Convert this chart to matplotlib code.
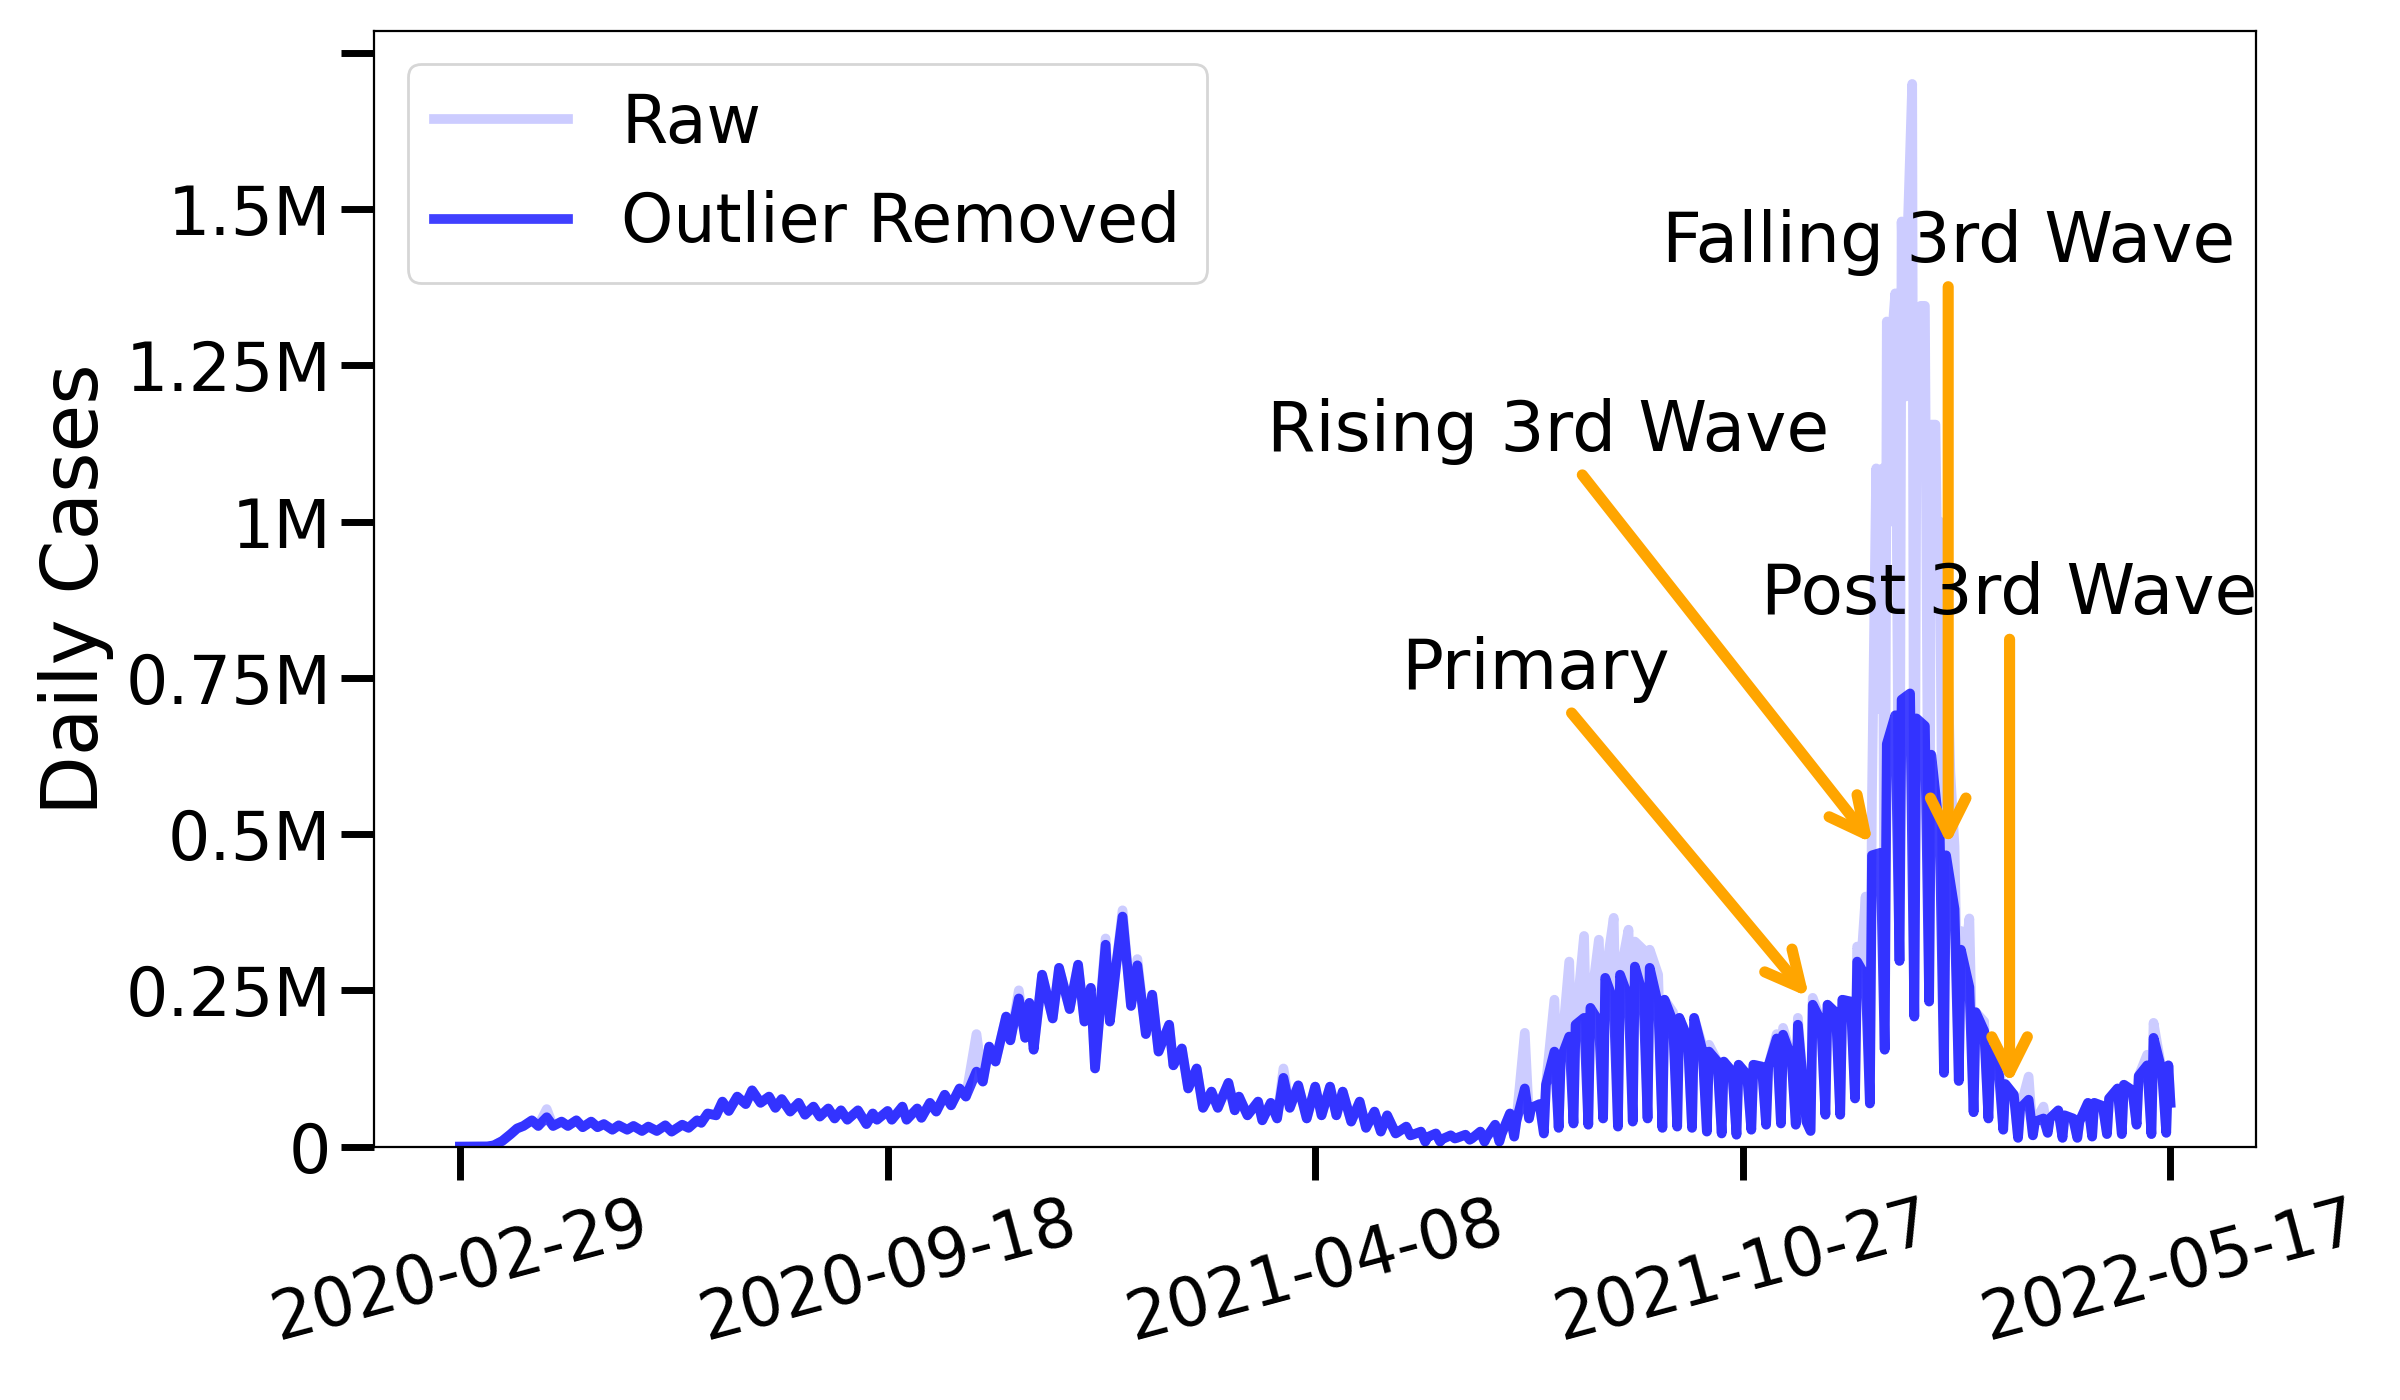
import numpy as np
import matplotlib
matplotlib.use("Agg")
import matplotlib.pyplot as plt

start = np.datetime64('2020-02-29')

# turning points: (days since 2020-02-29, thousands of cases)
pts_2020 = [(0, 0), (13, 0.3), (16, 2), (20, 9), (24, 20), (27, 29), (30, 33), (34, 42), (37, 33),
            (41, 47), (44, 33), (48, 40), (51, 33), (55, 42), (58, 31), (62, 40), (65, 31), (68, 36),
            (72, 27), (75, 34), (79, 27), (82, 33), (86, 25), (89, 32), (93, 25), (97, 34), (100, 24),
            (105, 35), (108, 30), (112, 42), (114, 38), (117, 53), (121, 50), (124, 72), (127, 57),
            (131, 80), (135, 68), (138, 90), (142, 70), (146, 80), (149, 62), (152, 76), (156, 56),
            (160, 70), (163, 51), (167, 64), (170, 48), (174, 61), (177, 45), (180, 58), (183, 43),
            (188, 58), (192, 36), (195, 53), (197, 43), (202, 57), (204, 43), (209, 64), (211, 43),
            (216, 61), (218, 46), (222, 70), (225, 56), (229, 83), (232, 66), (236, 93), (239, 80),
            (244, 120), (247, 104), (250, 160), (253, 136), (258, 208), (260, 170), (264, 237),
            (267, 174), (269, 230), (271, 155), (275, 275), (280, 205), (283, 286), (288, 220),
            (292, 291), (295, 200), (298, 254), (300, 125), (305, 323)]
pts_2021 = [(307, 200), (310, 290), (313, 368), (317, 225), (320, 290), (324, 180), (327, 243),
            (330, 152), (335, 195), (337, 130), (341, 157), (344, 93), (348, 125), (351, 62),
            (355, 88), (358, 62), (363, 102), (366, 58), (368, 80), (372, 50), (377, 72), (379, 42),
            (383, 70), (386, 45), (389, 110), (392, 62), (396, 98), (400, 45), (404, 96), (407, 50),
            (411, 96), (414, 50), (417, 88), (421, 40), (425, 72), (428, 30), (432, 56), (435, 24),
            (438, 50)]

# from 2021-05-16 on: one row per week -> Sunday low, Monday, Friday
week0 = 442
wk_low = [21, 18, 8, 8, 13, 11, 8, 8, 16, 45, 21, 30, 37, 35, 45, 32, 40, 45, 30, 32, 30, 24, 21,
          19, 27, 35, 37, 35, 25, 51, 51, 77, 69, 155, 297, 208, 232, 118, 105, 55, 45, 27, 14, 18,
          22, 14, 14, 16, 20, 20, 35, 20, 22]
wk_mon = [23, 19, 15, 12, 14, 13, 15, 20, 40, 62, 99, 140, 195, 222, 270, 275, 288, 286, 235, 206,
          206, 152, 136, 131, 131, 128, 179, 195, 227, 227, 235, 296, 466, 644, 715, 685, 627, 466,
          315, 215, 155, 100, 61, 40, 45, 50, 40, 70, 77, 99, 113, 174, 130]
wk_fri = [32, 24, 21, 18, 19, 24, 35, 53, 93, 68, 152, 176, 206, 200, 232, 238, 240, 227, 200, 173,
          152, 136, 120, 115, 128, 173, 142, 40, 200, 214, 232, 272, 470, 690, 725, 673, 500, 380,
          255, 185, 115, 83, 75, 45, 58, 45, 70, 65, 93, 90, 130, 120, None]
last_pt = (808, 70)

# raw series: where it differs from the cleaned one
raw_fix = {41: 60, 244: 180, 264: 250, 305: 333, 313: 378, 320: 300, 389: 125,
           503: 182, 517: 235, 524: 296, 531: 337, 538: 331, 545: 366, 552: 347,
           555: 328, 559: 315, 562: 315, 566: 275, 573: 215, 587: 160, 590: 163,
           622: 180, 625: 190, 632: 206, 639: 238, 720: 200, 727: 155, 741: 112,
           748: 64, 797: 147, 800: 198}
raw_jan2022 = [(659, 77), (660, 320), (662, 300), (664, 400), (666, 69), (667, 560), (669, 1085),
               (670, 700), (672, 1085), (673, 155), (674, 1320), (676, 1000), (677, 1320),
               (678, 1365), (680, 297), (681, 1480), (683, 1200), (684, 1480), (686, 1700),
               (687, 208), (688, 1150), (690, 1345), (692, 1345), (694, 232), (695, 1155),
               (697, 1155), (698, 900), (699, 1000), (701, 118), (702, 880), (704, 600),
               (706, 480), (708, 105), (709, 345), (711, 300), (713, 365), (715, 55)]

tick_dates = ['2020-02-29', '2020-09-18', '2021-04-08', '2021-10-27', '2022-05-17']
ytick_vals = [0, 0.25e6, 0.5e6, 0.75e6, 1e6, 1.25e6, 1.5e6, 1.75e6]
ytick_labels = ['0', '0.25M', '0.5M', '0.75M', '1M', '1.25M', '1.5M', '']

# label, arrow tip (date, value), text centre (date, value)
notes = [('Primary', '2021-11-29', 0.232e6, '2021-07-21', 0.763e6),
         ('Rising 3rd Wave', '2021-12-29', 0.478e6, '2021-07-27', 1.144e6),
         ('Falling 3rd Wave', '2022-02-01', 0.472e6, '2022-02-01', 1.447e6),
         ('Post 3rd Wave', '2022-03-02', 0.09e6, '2022-03-02', 0.883e6)]

# build the cleaned series
clean = list(pts_2020) + list(pts_2021)
for i in range(len(wk_low)):
    d = week0 + 7 * i
    clean.append((d, wk_low[i]))
    clean.append((d + 1, wk_mon[i]))
    if wk_fri[i] is not None:
        clean.append((d + 5, wk_fri[i]))
clean.append(last_pt)

# raw = cleaned with the outliers put back
lo, hi = raw_jan2022[0][0], raw_jan2022[-1][0]
raw = [(d, raw_fix.get(d, v)) for d, v in clean if not (lo <= d <= hi)]
raw = sorted(raw + raw_jan2022)

def to_xy(pts):
    days = np.array([p[0] for p in pts])
    vals = np.array([p[1] for p in pts], dtype=float) * 1000
    return start + days.astype('timedelta64[D]'), vals

fig, ax = plt.subplots(figsize=(12, 7), dpi=200)
fig.subplots_adjust(left=0.156, right=0.940, bottom=0.181, top=0.978)

x, y = to_xy(raw)
ax.plot(x, y, color='blue', alpha=0.2, lw=3.5, label='Raw')
x, y = to_xy(clean)
ax.plot(x, y, color='blue', alpha=0.75, lw=3.5, label='Outlier Removed')

for text, xd, yv, td, tv in notes:
    ax.annotate(text, xy=(np.datetime64(xd), yv), xytext=(np.datetime64(td), tv),
                fontsize=25, ha='center', va='center',
                arrowprops=dict(arrowstyle='->', color='orange', lw=4, mutation_scale=32))

ax.set_xticks(np.array(tick_dates, dtype='datetime64[D]'))
ax.set_xticklabels(tick_dates, rotation=15)
ax.set_yticks(ytick_vals)
ax.set_yticklabels(ytick_labels)
ax.set_ylim(0, 1.785e6)
ax.tick_params(labelsize=24, length=12, width=2.5)
ax.set_ylabel('Daily Cases', fontsize=28)
ax.legend(loc='upper left', fontsize=24)

plt.savefig('out.png')
